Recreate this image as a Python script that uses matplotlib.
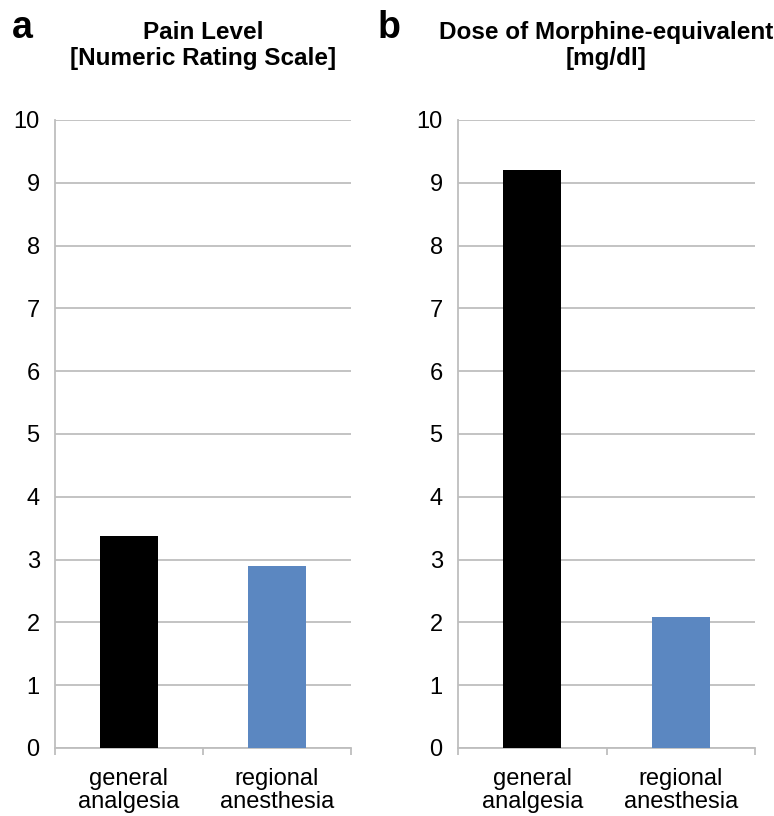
import matplotlib
matplotlib.use("Agg")
import matplotlib.pyplot as plt
from matplotlib.ticker import FixedLocator

plt.rcParams['font.family'] = ['Liberation Sans', 'DejaVu Sans']

categories = ["general\nanalgesia", "regional\nanesthesia"]
pain_level = [3.38, 2.9]
morphine_dose = [9.2, 2.09]
titles = ["Pain Level\n[Numeric Rating Scale]", "Dose of Morphine-equivalent\n[mg/dl]"]
letters = ["a", "b"]
bar_colors = ["#000000", "#5B87C1"]
yticks = list(range(0, 11))

fig = plt.figure(figsize=(7.74, 8.16), dpi=100)
positions = [[55/774, 68/816, 296/774, 628/816], [458/774, 68/816, 297/774, 628/816]]
letter_x = [12/774, 378/774]
grid_c = "#BEBEBE"

for i, (vals, pos) in enumerate(zip([pain_level, morphine_dose], positions)):
    ax = fig.add_axes(pos)
    x = range(len(categories))
    ax.bar(x, vals, width=0.39, color=bar_colors, zorder=3)
    ax.set_xlim(-0.5, 1.5)
    ax.set_ylim(0, 10)
    ax.set_yticks(yticks)
    ax.yaxis.grid(True, color=grid_c, linewidth=1.3, zorder=0)
    ax.set_xticks(list(x))
    ax.set_xticklabels(categories, fontsize=17, linespacing=1.03)
    ax.xaxis.set_minor_locator(FixedLocator([-0.5, 0.5, 1.5]))
    ax.tick_params(axis='x', which='major', length=0, pad=14.5)
    ax.tick_params(axis='x', which='minor', length=5, color=grid_c, width=1.3)
    ax.tick_params(axis='y', length=0, pad=11, labelsize=17)
    for s in ['top', 'right']:
        ax.spines[s].set_visible(False)
    for s in ['left', 'bottom']:
        ax.spines[s].set_color(grid_c)
        ax.spines[s].set_linewidth(1.3)
    ax.set_title(titles[i], fontsize=17.5, fontweight='bold', pad=39.5, linespacing=1.15)
    fig.text(letter_x[i], 1 - 38/816, letters[i], fontsize=27, fontweight='bold', ha='left', va='baseline')

fig.savefig("out.png", dpi=100)
